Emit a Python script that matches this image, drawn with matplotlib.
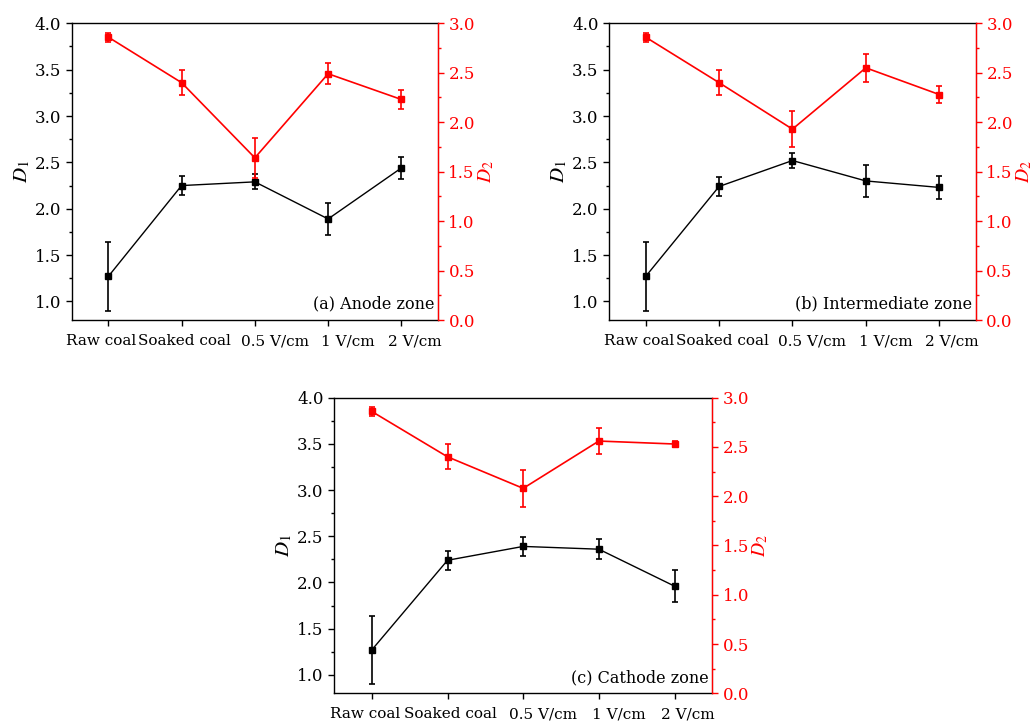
import matplotlib
matplotlib.use("Agg")
import matplotlib.pyplot as plt
from matplotlib.ticker import MultipleLocator

plt.rcParams["font.family"] = ["DejaVu Serif"]
plt.rcParams["mathtext.fontset"] = "stix"

categories = ["Raw coal", "Soaked coal", "0.5 V/cm", "1 V/cm", "2 V/cm"]
# horizontal nudge (px) of each category label away from its tick
label_shift = [-7, 3, 20, 20, 13]

# D1 (left axis) and D2 (right axis) for each zone, with error bars
anode_d1 = [1.27, 2.25, 2.29, 1.89, 2.44]
anode_d1_err = [0.37, 0.10, 0.08, 0.17, 0.115]
anode_d2 = [2.86, 2.40, 1.64, 2.49, 2.23]
anode_d2_err = [0.045, 0.125, 0.20, 0.105, 0.097]

inter_d1 = [1.27, 2.24, 2.52, 2.30, 2.23]
inter_d1_err = [0.37, 0.10, 0.085, 0.17, 0.125]
inter_d2 = [2.86, 2.40, 1.93, 2.55, 2.28]
inter_d2_err = [0.045, 0.125, 0.18, 0.14, 0.09]

cathode_d1 = [1.27, 2.24, 2.39, 2.36, 1.96]
cathode_d1_err = [0.37, 0.10, 0.105, 0.11, 0.17]
cathode_d2 = [2.86, 2.40, 2.08, 2.56, 2.53]
cathode_d2_err = [0.045, 0.125, 0.19, 0.135, 0.035]

left_ticks = [1.0, 1.5, 2.0, 2.5, 3.0, 3.5, 4.0]
right_ticks = [0.0, 0.5, 1.0, 1.5, 2.0, 2.5, 3.0]

panels = [
    ([0.0692, 0.558, 0.3536, 0.4098], anode_d1, anode_d1_err, anode_d2, anode_d2_err, "(a) Anode zone"),
    ([0.5878, 0.558, 0.3542, 0.4098], inter_d1, inter_d1_err, inter_d2, inter_d2_err, "(b) Intermediate zone"),
    ([0.3224, 0.0424, 0.3652, 0.4083], cathode_d1, cathode_d1_err, cathode_d2, cathode_d2_err, "(c) Cathode zone"),
]

fig = plt.figure(figsize=(10.36, 7.24), dpi=100)
x = list(range(len(categories)))
fs = 12
px = 72 / 100  # points per pixel

for rect, d1, d1e, d2, d2e, tag in panels:
    ax = fig.add_axes(rect)
    ax2 = ax.twinx()

    ax.errorbar(x, d1, yerr=d1e, color="black", marker="s", markersize=4.8,
                linewidth=1, elinewidth=1.2, capsize=2.5, capthick=1.2)
    ax2.errorbar(x, d2, yerr=d2e, color="red", marker="s", markersize=4.8,
                 linewidth=1.2, elinewidth=1.2, capsize=2.5, capthick=1.2)

    ax.set_xlim(-0.5, 4.5)
    ax.set_ylim(0.8, 4.0)
    ax2.set_ylim(0.0, 3.0)

    # category labels drawn by hand so they can sit off-centre like the original
    ax.set_xticks(x)
    ax.tick_params(axis="x", labelbottom=False)
    for i, (cat, dx) in enumerate(zip(categories, label_shift)):
        ax.annotate(cat, xy=(i, 0), xycoords=ax.get_xaxis_transform(),
                    xytext=(dx * px, -14 * px), textcoords="offset points",
                    ha="center", va="top", fontsize=11)

    ax.yaxis.set_minor_locator(MultipleLocator(0.25))
    ax.set_yticks(left_ticks)
    ax.set_yticklabels(["%.1f" % v for v in left_ticks], fontsize=fs)
    ax2.yaxis.set_minor_locator(MultipleLocator(0.25))
    ax2.set_yticks(right_ticks)
    ax2.set_yticklabels(["%.1f" % v for v in right_ticks], fontsize=fs, color="red")

    ax.tick_params(axis="both", which="major", direction="out", length=4.5, width=1, pad=3)
    ax.tick_params(axis="y", which="minor", direction="out", length=2.5, width=1)
    ax2.tick_params(axis="y", which="major", direction="out", length=4.5, width=1,
                    colors="red", pad=3)
    ax2.tick_params(axis="y", which="minor", direction="out", length=2.5, width=1, colors="red")

    for sp in ["left", "bottom", "top"]:
        ax.spines[sp].set_linewidth(1)
    ax2.spines["right"].set_color("red")
    ax2.spines["right"].set_linewidth(1)
    for sp in ["left", "bottom", "top"]:
        ax2.spines[sp].set_visible(False)

    ax.set_ylabel(r"$D_{\mathit{1}}$", fontsize=15, labelpad=2)
    ax2.set_ylabel(r"$D_{\mathit{2}}$", fontsize=14, color="red", rotation=90, labelpad=1)

    ax.text(0.99, 0.025, tag, transform=ax.transAxes, ha="right", va="bottom",
            fontsize=11.5)

fig.savefig("out.png", dpi=100)
